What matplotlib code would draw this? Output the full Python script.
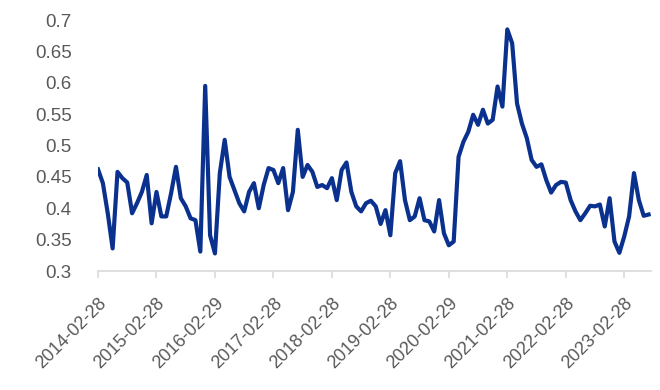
import matplotlib
matplotlib.use("Agg")
import matplotlib.pyplot as plt

plt.rcParams['font.family'] = ['Liberation Sans', 'DejaVu Sans']

# monthly values, 2014-02 .. 2023-07
values = [
    0.462, 0.440, 0.392, 0.336, 0.458, 0.448, 0.441, 0.392, 0.408, 0.426, 0.453, 0.376,
    0.426, 0.387, 0.387, 0.424, 0.466, 0.416, 0.403, 0.384, 0.381, 0.331, 0.595, 0.357,
    0.328, 0.456, 0.509, 0.450, 0.429, 0.408, 0.395, 0.426, 0.440, 0.400, 0.437, 0.464,
    0.461, 0.440, 0.464, 0.397, 0.426, 0.525, 0.450, 0.469, 0.458, 0.434, 0.437, 0.432,
    0.448, 0.413, 0.461, 0.473, 0.426, 0.403, 0.395, 0.408, 0.412, 0.403, 0.375, 0.397,
    0.357, 0.456, 0.475, 0.413, 0.381, 0.387, 0.416, 0.381, 0.379, 0.363, 0.413, 0.360,
    0.341, 0.347, 0.482, 0.506, 0.522, 0.549, 0.533, 0.557, 0.535, 0.541, 0.594, 0.562,
    0.685, 0.663, 0.567, 0.535, 0.512, 0.477, 0.466, 0.470, 0.445, 0.425, 0.437, 0.442,
    0.441, 0.413, 0.395, 0.381, 0.392, 0.404, 0.403, 0.406, 0.371, 0.416, 0.347, 0.329,
    0.355, 0.387, 0.456, 0.413, 0.388, 0.390,
]

# one labelled tick every 12 months
tick_labels = [
    '2014-02-28', '2015-02-28', '2016-02-29', '2017-02-28', '2018-02-28',
    '2019-02-28', '2020-02-29', '2021-02-28', '2022-02-28', '2023-02-28',
]
y_ticks = [0.3, 0.35, 0.4, 0.45, 0.5, 0.55, 0.6, 0.65, 0.7]

fig = plt.figure(figsize=(6.6, 3.9), dpi=100)
ax = fig.add_axes([0.1485, 0.3051, 0.8379, 0.6436])

x = list(range(len(values)))
ax.plot(x, values, color='#0b318f', linewidth=3.0, solid_joinstyle='round')

ax.set_ylim(0.3, 0.7)
ax.set_xlim(0, len(values) - 0.5)
ax.set_yticks(y_ticks)
ax.set_yticklabels([f'{v:g}' for v in y_ticks])
ax.set_xticks(x[::12])
ax.set_xticklabels(tick_labels, rotation=45, ha='right', va='top', rotation_mode='anchor')

for side in ['top', 'right', 'left']:
    ax.spines[side].set_visible(False)
ax.spines['bottom'].set_color('#d9d9d9')
ax.spines['bottom'].set_linewidth(1.2)

ax.tick_params(axis='y', length=0, pad=19, labelsize=13.5, labelcolor='#595959')
ax.tick_params(axis='x', length=5, width=1.2, color='#d9d9d9', pad=12,
               labelsize=13, labelcolor='#595959')

fig.savefig('out.png', dpi=100)
